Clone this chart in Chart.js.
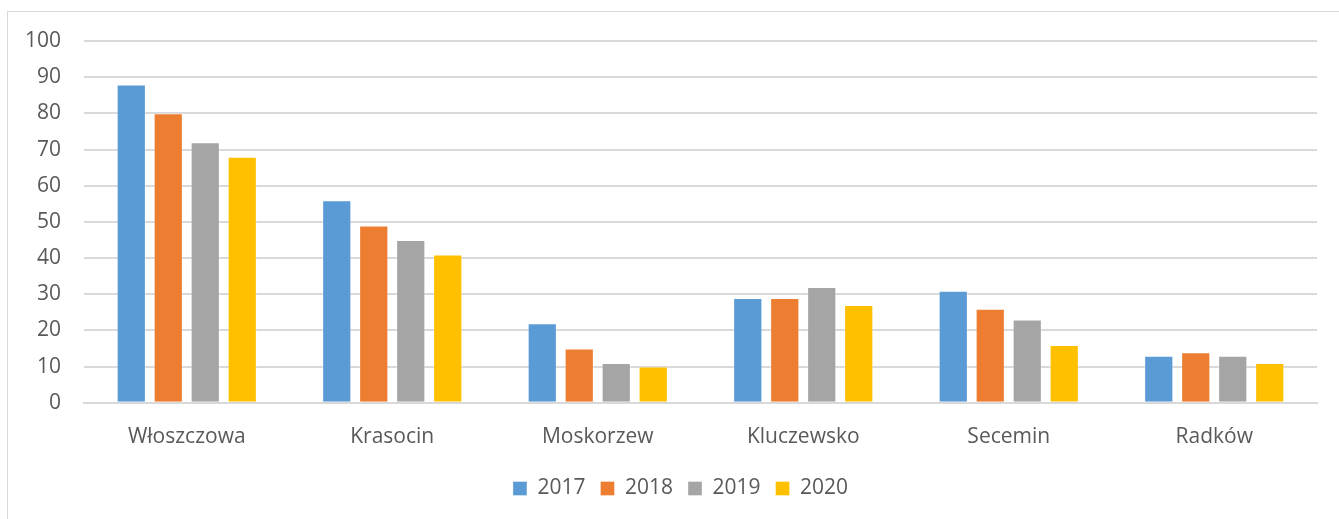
<!DOCTYPE html>
<html>
<head>
<meta charset="utf-8">
<script src="https://cdn.jsdelivr.net/npm/chart.js@4"></script>
<style>
  body { margin: 0; background: #fff; overflow: hidden; }
  #wrap { position: relative; width: 1339px; height: 519px; }
  #frame { position: absolute; left: 7px; top: 11px; width: 1400px; height: 600px; border: 1px solid #d9d9d9; pointer-events: none; }
  canvas { position: absolute; left: 0; top: 0; }
</style>
</head>
<body>
<div id="wrap">
  <div id="frame"></div>
  <canvas id="chart" width="1339" height="519"></canvas>
</div>
<script>
const gminy = ["Włoszczowa", "Krasocin", "Moskorzew", "Kluczewsko", "Secemin", "Radków"];
const years = ["2017", "2018", "2019", "2020"];
const v2017 = [88, 56, 22, 29, 31, 13];
const v2018 = [80, 49, 15, 29, 26, 14];
const v2019 = [72, 45, 11, 32, 23, 13];
const v2020 = [68, 41, 10, 27, 16, 11];
const colors = ["#5B9BD5", "#ED7D31", "#A5A5A5", "#FFC000"];

const textColor = "#595959";
const font = { family: "'Open Sans', sans-serif", size: 21 };

// legend in the original sits a bit right of the canvas centre
const shiftLegend = {
  id: "shiftLegend",
  afterLayout(chart) {
    chart.legend.left += 22;
    chart.legend.right += 22;
  }
};

const ctx = document.getElementById("chart").getContext("2d");
new Chart(ctx, {
  type: "bar",
  data: {
    labels: gminy,
    datasets: [v2017, v2018, v2019, v2020].map((vals, i) => ({
      label: years[i],
      data: vals,
      backgroundColor: colors[i],
      borderColor: "rgba(255,255,255,0.35)",
      borderWidth: 1,
      categoryPercentage: 0.72,
      barPercentage: 0.79
    }))
  },
  options: {
    responsive: false,
    animation: false,
    layout: { padding: { top: 41, right: 22, left: 0, bottom: 10 } },
    plugins: {
      tooltip: { enabled: false },
      legend: {
        position: "bottom",
        labels: {
          color: textColor,
          font: font,
          boxWidth: 14,
          boxHeight: 14,
          padding: 15
        }
      }
    },
    scales: {
      x: {
        grid: { display: false, drawTicks: false },
        border: { color: "#d9d9d9", width: 2 },
        ticks: { color: textColor, font: font, padding: 22, maxRotation: 0 },
        afterFit: scale => { scale.height = scale.height - 9; }
      },
      y: {
        min: 0,
        max: 100,
        ticks: { stepSize: 10, color: textColor, font: font, padding: 23 },
        grid: { color: "#d9d9d9", lineWidth: 2, drawTicks: false },
        border: { display: false },
        afterFit: scale => { scale.width = 84; }
      }
    }
  },
  plugins: [shiftLegend]
});
</script>
</body>
</html>
